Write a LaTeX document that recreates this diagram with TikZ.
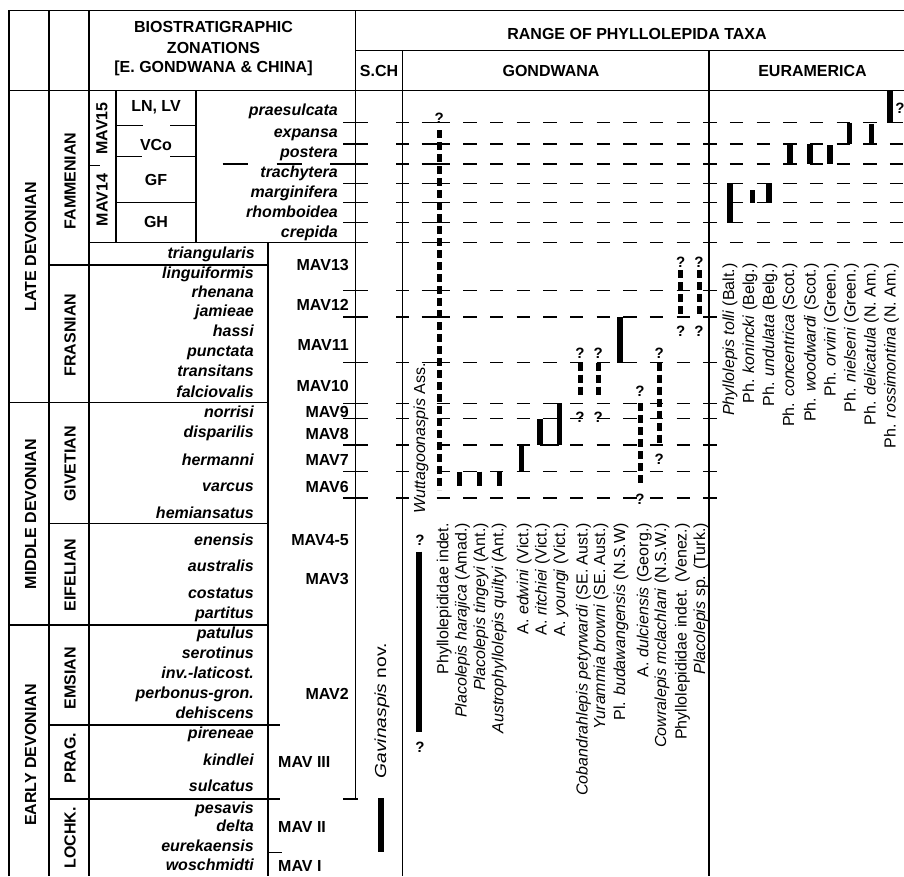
\documentclass[tikz,border=0pt]{standalone}
\usepackage{fontspec}
\setmainfont{Liberation Sans}
\begin{document}
\begin{tikzpicture}[x=1pt,y=-1pt]
\tikzset{
 frm/.style={line width=1.3pt},
 rowdash/.style={line width=1.3pt, dash pattern=on 13.33pt off 13.33pt},
 rbar/.style={line width=5.5pt},
 dbar/.style={line width=5pt, dash pattern=on 8pt off 4pt},
 zone/.style={font=\fontsize{16}{19}\selectfont\bfseries\itshape, anchor=base east, inner sep=0pt},
 mavl/.style={font=\fontsize{16}{19}\selectfont\bfseries, anchor=base east, inner sep=0pt},
 mavr/.style={font=\fontsize{16}{19}\selectfont\bfseries, anchor=base west, inner sep=0pt},
 hdr/.style={font=\fontsize{16}{19}\selectfont\bfseries, anchor=base, inner sep=0pt},
 vhdr/.style={font=\fontsize{16}{19}\selectfont\bfseries, rotate=90, anchor=center, inner sep=0pt},
 taxon/.style={font=\fontsize{16}{19}\selectfont, rotate=90, anchor=base east, inner sep=0pt},
 qm/.style={font=\fontsize{15}{15}\selectfont\bfseries, inner sep=0pt},
}
\useasboundingbox (0,0) rectangle (904,876);
\clip (0,0) rectangle (904,876);
\fill[white] (0,0) rectangle (904,876);

% frame
\draw[frm] (9,876) -- (9,10.7) -- (904,10.7);
\draw[frm] (49,10.7) -- (49,876);
\draw[frm] (89,10.7) -- (89,876);
\draw[frm] (355.5,10.7) -- (355.5,799);
\draw[frm] (355.5,50.7) -- (904,50.7);
\draw[frm] (9,90.7) -- (904,90.7);
\draw[frm] (402.5,50.7) -- (402.5,876);
\draw[frm] (709,50.7) -- (709,876);

% left body
\draw[frm] (116,90.7) -- (116,242.7);
\draw[frm] (196,90.7) -- (196,242.7);
\draw[frm] (116,202.7) -- (196,202.7);
\draw[frm] (89,242.7) -- (355.5,242.7);
\draw[frm] (116,125.3) -- (143,125.3) (170,125.3) -- (196,125.3);
\draw[frm] (116,156.7) -- (142,156.7) (170,156.7) -- (196,156.7);
\draw[frm] (90,165.7) -- (100,165.7);
\draw[frm] (49,265) -- (268,265);
\draw[frm] (268,242.7) -- (268,876);
\draw[frm] (9,402.7) -- (268,402.7);
\draw[frm] (49,523.3) -- (268,523.3);
\draw[frm] (9,625) -- (268,625);
\draw[frm] (49,725) -- (280,725);
\draw[frm] (49,799) -- (280,799);
\draw[frm] (343,799) -- (358,799);
\draw[frm] (268,852.7) -- (282,852.7);

% zone boundary rows
\foreach \y in {122.7,144,164,183.3,202.7,222.7,242.7} {
  \draw[frm] (343,\y) -- (368,\y) (396,\y) -- (409,\y) (421.7,\y) -- (436.7,\y);
  \draw[rowdash] (436.7,\y) -- (904,\y);
}
\foreach \y in {290.7,317,362.7} {
  \draw[frm] (343,\y) -- (368,\y) (396,\y) -- (409,\y) (421.7,\y) -- (436.7,\y);
  \draw[rowdash] (436.7,\y) -- (716.7,\y);
}
\foreach \y in {403.3,418.7,445,471.7,498} {
  \draw[frm] (343,\y) -- (368,\y) (396,\y) -- (409,\y);
  \draw[rowdash] (436.7,\y) -- (716.7,\y);
}
\draw[frm] (222.7,164) -- (248.3,164) (276.7,164) -- (301.7,164) (330,164) -- (343,164);

% headers
\node[hdr] (h1) at (213.5,32.3) {BIOSTRATIGRAPHIC};
\node[hdr] (h2) at (213.5,53.3) {ZONATIONS};
\node[hdr] (h3) at (213.5,72.7) {[E. GONDWANA \& CHINA]};
\node[hdr] (h4) at (637,39.3) {RANGE OF PHYLLOLEPIDA TAXA};
\node[hdr] (h5) at (379,76) {S.CH};
\node[hdr] (h6) at (551,76) {GONDWANA};
\node[hdr] (h7) at (812.5,76) {EURAMERICA};

% eras and stages
\node[vhdr] (era1) at (30.5,246.7) {LATE DEVONIAN};
\node[vhdr] (era2) at (30.5,514) {MIDDLE DEVONIAN};
\node[vhdr] (era3) at (30.5,755) {EARLY DEVONIAN};
\node[vhdr] (st1) at (70,181) {FAMMENIAN};
\node[vhdr] (st2) at (70,335) {FRASNIAN};
\node[vhdr] (st3) at (70,464) {GIVETIAN};
\node[vhdr] (st4) at (70,575) {EIFELIAN};
\node[vhdr] (st5) at (70,678) {EMSIAN};
\node[vhdr] (st6) at (70,758) {PRAG.};
\node[vhdr] (st7) at (70,838) {LOCHK.};
\node[vhdr] (m15) at (102,128.5) {MAV15};
\node[vhdr] (m14) at (102,200) {MAV14};
\node[hdr] (f1) at (156,111.7) {LN, LV};
\node[hdr] (f2) at (156,150.7) {VCo};
\node[hdr] (f3) at (156,185.7) {GF};
\node[hdr] (f4) at (156,227.7) {GH};

% conodont zones
\foreach \t/\y [count=\i] in {praesulcata/115,expansa/137.3,postera/157.7,trachytera/177.3,marginifera/197.3,rhomboidea/217.3,crepida/237.3}
  \node[zone] (za\i) at (338,\y) {\t};
\node[zone] (tri) at (255,258.3) {triangularis};
\foreach \t/\y [count=\i] in {linguiformis/278.3,rhenana/297.7,jamieae/316.7,hassi/336.7,punctata/356.7,transitans/376.7,falciovalis/397.3,norrisi/417.7,disparilis/437.7,hermanni/465,varcus/491.7,hemiansatus/518.3,enensis/545,australis/571.7,costatus/598.3,partitus/618.3,patulus/638.3,serotinus/658.3,inv.-laticost./678.3,perbonus-gron./698.3,dehiscens/718.3,pireneae/738.3,kindlei/765,sulcatus/791.7,pesavis/813.3,delta/831.7,eurekaensis/851.7,woschmidti/870}
  \node[zone] (zb\i) at (254,\y) {\t};

% MAV zones
\foreach \t/\y [count=\i] in {MAV13/270.7,MAV12/310,MAV11/350.7,MAV10/391.7,MAV9/417.3,MAV8/439,MAV7/465,MAV6/492.3,MAV4-5/545,MAV3/584,MAV2/699}
  \node[mavl] (mv\i) at (349,\y) {\t};
\node[mavr] (mv12) at (278,767.3) {MAV III};
\node[mavr] (mv13) at (278,832.3) {MAV II};
\node[mavr] (mv14) at (278,871.7) {MAV I};

% S.CH
\draw[rbar] (381,798) -- (381,851.7);
\node[taxon] (gv) at (386,643) {\scalebox{1.2}[1]{\textit{Gavinaspis} nov.}};

% Gondwana ranges
\node[taxon] (wu) at (425,363) {\textit{Wuttagoonaspis} Ass.};
\draw[dbar] (439.3,130) -- (439.3,490);
\node[qm] (q1) at (439.3,118.3) {?};
\draw[rbar] (419,551.7) -- (419,731.7);
\node[qm] (q2) at (420,540) {?};
\node[qm] (q3) at (420,747) {?};
\draw[rbar] (459.7,471.7) -- (459.7,486);
\draw[rbar] (479.7,471.7) -- (479.7,486);
\draw[rbar] (499.7,471.7) -- (499.7,486);
\draw[rbar] (521.7,445) -- (521.7,471.7);
\draw[rbar] (540,418.7) -- (540,445);
\draw[rbar] (559.3,403.3) -- (559.3,445);
\draw[frm] (540,445) -- (559.3,445);
\draw[dbar] (580,362.7) -- (580,397);
\node[qm] (q4) at (580,353.3) {?};
\node[qm] (q5) at (580,417.5) {?};
\draw[dbar] (598.3,362.7) -- (598.3,397);
\node[qm] (q6) at (598.3,353.3) {?};
\node[qm] (q7) at (598.3,417.5) {?};
\draw[rbar] (620,317) -- (620,362.7);
\draw[dbar] (640,403.3) -- (640,487);
\node[qm] (q8) at (640,391.7) {?};
\node[qm] (q9) at (640,499) {?};
\draw[dbar] (659.3,362.7) -- (659.3,443.3);
\node[qm] (q10) at (659.3,353.3) {?};
\node[qm] (q11) at (659.3,459) {?};
\draw[dbar] (680.7,270) -- (680.7,316.7);
\node[qm] (q12) at (680.7,262.5) {?};
\node[qm] (q13) at (680.7,331) {?};
\draw[dbar] (699,270) -- (699,316.7);
\node[qm] (q14) at (699,262.5) {?};
\node[qm] (q15) at (699,331) {?};

\node[taxon] (g1) at (448.3,523) {Phyllolepididae indet.};
\node[taxon] (g2) at (466.7,523) {\textit{Placolepis harajica} (Amad.)};
\node[taxon] (g3) at (485,523) {\textit{Placolepis tingeyi} (Ant.)};
\node[taxon] (g4) at (503.3,523) {\textit{Austrophyllolepis quiltyi} (Ant.)};
\node[taxon] (g5) at (528.3,523) {A. \textit{edwini} (Vict.)};
\node[taxon] (g6) at (546.7,523) {A. \textit{ritchiei} (Vict.)};
\node[taxon] (g7) at (565,523) {A. \textit{youngi} (Vict.)};
\node[taxon] (g8) at (587.7,523) {\textit{Cobandrahlepis petyrwardi} (SE. Aust.)};
\node[taxon] (g9) at (605,523) {\textit{Yurammia browni} (SE. Aust.)};
\node[taxon] (g10) at (625,523) {Pl. \textit{budawangensis} (N.S.W)};
\node[taxon] (g11) at (648.3,523) {A. \textit{dulciensis} (Georg.)};
\node[taxon] (g12) at (666,523) {\textit{Cowralepis mclachlani} (N.S.W.)};
\node[taxon] (g13) at (686.7,523) {Phyllolepididae indet. (Venez.)};
\node[taxon] (g14) at (705,523) {\textit{Placolepis} sp. (Turk.)};

% Euramerica ranges
\draw[rbar] (730,183.3) -- (730,222.7);
\draw[rbar] (752.5,190) -- (752.5,202.7);
\draw[rbar] (769,183.3) -- (769,202.7);
\draw[rbar] (790,144) -- (790,164);
\draw[rbar] (810,144) -- (810,164);
\draw[rbar] (830,145) -- (830,164);
\draw[rbar] (849.5,122.7) -- (849.5,144);
\draw[rbar] (871.7,124) -- (871.7,144);
\draw[rbar] (890,90.7) -- (890,122.7);
\node[qm] (q16) at (900,108) {?};

\node[taxon] (e1) at (734,263.3) {\textit{Phyllolepis tolli} (Balt.)};
\node[taxon] (e2) at (754,263.3) {Ph. \textit{konincki} (Belg.)};
\node[taxon] (e3) at (774,263.3) {Ph. \textit{undulata} (Belg.)};
\node[taxon] (e4) at (794,263.3) {Ph. \textit{concentrica} (Scot.)};
\node[taxon] (e5) at (815.7,263.3) {Ph. \textit{woodwardi} (Scot.)};
\node[taxon] (e6) at (835.7,263.3) {Ph. \textit{orvini} (Green.)};
\node[taxon] (e7) at (855.7,263.3) {Ph. \textit{nielseni} (Green.)};
\node[taxon] (e8) at (875.7,263.3) {Ph. \textit{delicatula} (N. Am.)};
\node[taxon] (e9) at (895.7,263.3) {Ph. \textit{rossimontina} (N. Am.)};
\end{tikzpicture}
\end{document}
